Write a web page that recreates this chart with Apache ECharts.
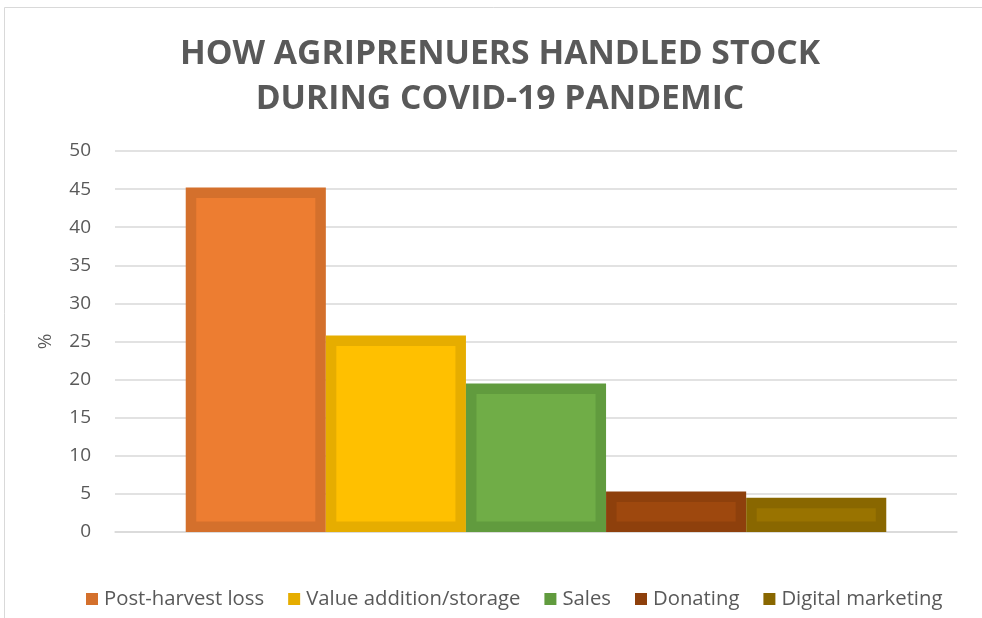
<!DOCTYPE html>
<html>
<head>
<meta charset="utf-8">
<script src="https://cdn.jsdelivr.net/npm/echarts@6/dist/echarts.min.js"></script>
<style>
  html, body { margin: 0; padding: 0; background: #fff; }
  #chart { width: 982px; height: 618px; }
</style>
</head>
<body>
<div id="chart"></div>
<script>
// Share of agripreneurs (%) by how stock was handled
const categories = ['Post-harvest loss', 'Value addition/storage', 'Sales', 'Donating', 'Digital marketing'];
const values = [45.2, 25.8, 19.5, 5.3, 4.5];
const yTicks = [0, 5, 10, 15, 20, 25, 30, 35, 40, 45, 50];

// fill colours and their darker edge colours
const fillColors = ['#ED7D31', '#FFC000', '#70AD47', '#9E480E', '#997300'];
const edgeColors = ['#D4702C', '#E6AD00', '#619B3E', '#8E400C', '#896700'];

const FONT = '"Open Sans", "Noto Sans", sans-serif';
const EDGE = 10.5;          // inner border thickness
const GROUP_SHARE = 0.832;  // share of the category band covered by the bar group

const chart = echarts.init(document.getElementById('chart'));

function makeRender(idx) {
  return function (params, api) {
    const base = api.coord([0, 0]);
    const top = api.coord([0, api.value(1)]);
    const band = api.size([1, 0])[0];
    const groupW = band * GROUP_SHARE;
    const barW = groupW / categories.length;
    const x = base[0] - groupW / 2 + idx * barW;
    const h = base[1] - top[1];
    const children = [{
      type: 'rect',
      shape: { x: x, y: top[1], width: barW, height: h },
      style: { fill: edgeColors[idx] }
    }];
    if (h > 2 * EDGE && barW > 2 * EDGE) {
      children.push({
        type: 'rect',
        shape: { x: x + EDGE, y: top[1] + EDGE, width: barW - 2 * EDGE, height: h - 2 * EDGE },
        style: { fill: fillColors[idx] }
      });
    }
    return { type: 'group', children: children };
  };
}

const series = categories.map((name, i) => ({
  name: name,
  type: 'custom',
  renderItem: makeRender(i),
  itemStyle: { color: edgeColors[i] },
  encode: { x: 0, y: 1 },
  data: [[0, values[i]]]
}));

chart.setOption({
  animation: false,
  backgroundColor: '#ffffff',
  graphic: [{
    type: 'rect',
    shape: { x: 4.5, y: 7.5, width: 1000, height: 700 },
    style: { fill: 'none', stroke: '#d9d9d9', lineWidth: 1 },
    silent: true,
    z: -10
  }],
  title: {
    text: 'HOW AGRIPRENUERS HANDLED STOCK\nDURING COVID-19 PANDEMIC',
    left: 495,
    textAlign: 'center',
    top: 27,
    textStyle: {
      fontFamily: FONT,
      fontWeight: 'bold',
      fontSize: 33.7,
      lineHeight: 45,
      color: '#595959'
    }
  },
  grid: { left: 115, right: 25, top: 151, bottom: 86 },
  legend: {
    bottom: 4,
    left: 81,
    icon: 'rect',
    itemWidth: 12,
    itemHeight: 12,
    itemGap: 24,
    textStyle: { fontFamily: FONT, fontSize: 20.3, color: '#595959', padding: [0, 0, 0, 1] },
    data: categories
  },
  xAxis: {
    type: 'category',
    data: [''],
    axisLine: { show: true, lineStyle: { color: '#d9d9d9', width: 1.5 } },
    axisTick: { show: false },
    axisLabel: { show: false }
  },
  yAxis: {
    type: 'value',
    min: yTicks[0],
    max: yTicks[yTicks.length - 1],
    interval: 5,
    name: '%',
    nameLocation: 'middle',
    nameGap: 60,
    nameRotate: 90,
    nameTextStyle: { fontFamily: FONT, fontSize: 19, color: '#595959' },
    axisLine: { show: false },
    axisTick: { show: false },
    axisLabel: { fontFamily: FONT, fontSize: 19, color: '#595959', margin: 24 },
    splitLine: { lineStyle: { color: '#d9d9d9', width: 1.5 } }
  },
  series: series
});
</script>
</body>
</html>
